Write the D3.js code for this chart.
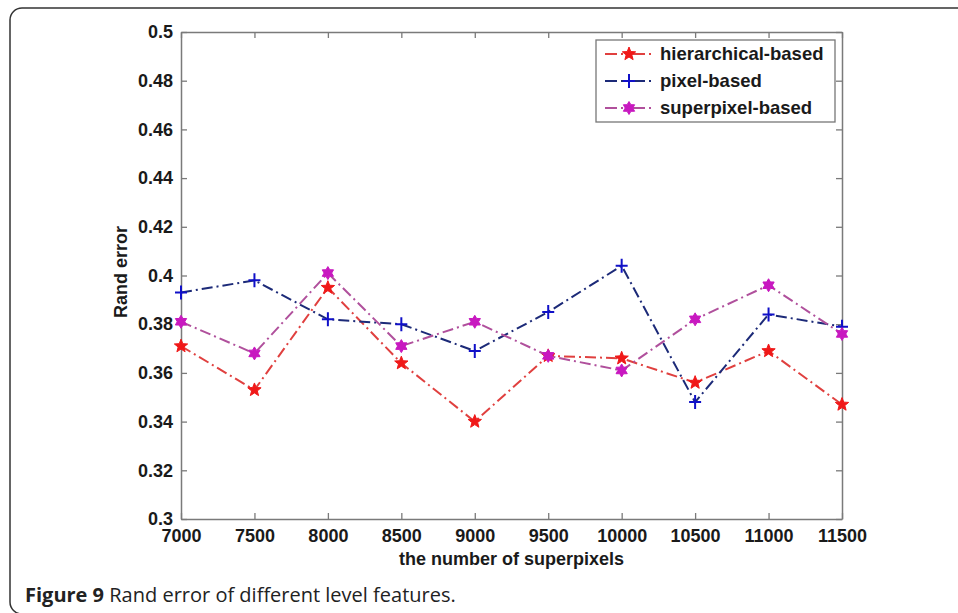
<!DOCTYPE html>
<html>
<head>
<meta charset="utf-8">
<script src="https://cdn.jsdelivr.net/npm/d3@7"></script>
<style>
  body { margin: 0; background: #fff; }
  svg { display: block; }
  .tick text { font-family: "Liberation Sans", Arial, sans-serif; font-size: 18px; font-weight: bold; fill: #1a1a1a; }
</style>
</head>
<body>
<svg class="chart" width="958" height="613"></svg>
<script>
// data
const superpixels = [7000, 7500, 8000, 8500, 9000, 9500, 10000, 10500, 11000, 11500];
const hierarchical = [0.371, 0.353, 0.395, 0.364, 0.340, 0.367, 0.366, 0.356, 0.369, 0.347];
const pixel = [0.393, 0.398, 0.382, 0.380, 0.369, 0.385, 0.404, 0.348, 0.384, 0.379];
const superpixel = [0.381, 0.368, 0.401, 0.371, 0.381, 0.367, 0.361, 0.382, 0.396, 0.376];
const yTicks = [0.3, 0.32, 0.34, 0.36, 0.38, 0.4, 0.42, 0.44, 0.46, 0.48, 0.5];
const seriesNames = ['hierarchical-based', 'pixel-based', 'superpixel-based'];

const plot = { l: 181, r: 842, t: 32, b: 519 };
const svg = d3.select('.chart');

// outer frame of the figure panel
svg.append('rect')
  .attr('x', 10).attr('y', 8)
  .attr('width', 1000).attr('height', 606)
  .attr('rx', 12)
  .attr('fill', 'none')
  .attr('stroke', '#333')
  .attr('stroke-width', 1.5);

const scaleX = d3.scaleLinear()
  .domain([7000, 11500])
  .range([plot.l, plot.r]);
const scaleY = d3.scaleLinear()
  .domain([0.3, 0.5])
  .range([plot.b, plot.t]);

const axisColor = '#7a7a7a';
function styleAxis(g) {
  g.select('.domain').attr('stroke', axisColor).attr('stroke-width', 1.5);
  g.selectAll('.tick line').attr('stroke', axisColor).attr('stroke-width', 1.3);
}

svg.append('g')
  .attr('transform', `translate(0, ${plot.b})`)
  .call(d3.axisBottom(scaleX).tickValues(superpixels).tickSize(-6).tickSizeOuter(0).tickPadding(10).tickFormat(d3.format('d')))
  .call(styleAxis);
svg.append('g')
  .attr('transform', `translate(0, ${plot.t})`)
  .call(d3.axisTop(scaleX).tickValues(superpixels).tickSize(-6).tickSizeOuter(0).tickFormat(''))
  .call(styleAxis);
svg.append('g')
  .attr('transform', `translate(${plot.l}, 0)`)
  .call(d3.axisLeft(scaleY).tickValues(yTicks).tickSize(-6).tickSizeOuter(0).tickPadding(8).tickFormat(d3.format('~g')))
  .call(styleAxis);
svg.append('g')
  .attr('transform', `translate(${plot.r}, 0)`)
  .call(d3.axisRight(scaleY).tickValues(yTicks).tickSize(-6).tickSizeOuter(0).tickFormat(''))
  .call(styleAxis);

// axis titles
svg.append('text')
  .attr('x', (plot.l + plot.r) / 2)
  .attr('y', 565)
  .attr('text-anchor', 'middle')
  .attr('font-family', '"Liberation Sans", Arial, sans-serif')
  .attr('font-size', 18).attr('font-weight', 'bold').attr('fill', '#1a1a1a')
  .text('the number of superpixels');
svg.append('text')
  .attr('transform', 'rotate(-90)')
  .attr('x', -272)
  .attr('y', 127)
  .attr('text-anchor', 'middle')
  .attr('font-family', '"Liberation Sans", Arial, sans-serif')
  .attr('font-size', 18).attr('font-weight', 'bold').attr('fill', '#1a1a1a')
  .text('Rand error');

// marker shapes
function starPath(points, R, r) {
  const pts = [];
  for (let i = 0; i < points * 2; i++) {
    const a = -Math.PI / 2 + i * Math.PI / points;
    const rad = i % 2 ? r : R;
    pts.push([rad * Math.cos(a), rad * Math.sin(a)]);
  }
  return 'M' + pts.map(p => p[0].toFixed(2) + ',' + p[1].toFixed(2)).join('L') + 'Z';
}
const plusPath = 'M-6,0H6M0,-7V7';

const series = [
  { name: seriesNames[0], values: hierarchical, line: '#e0403f', mark: '#f01818', shape: starPath(5, 7, 3), fill: true },
  { name: seriesNames[1], values: pixel, line: '#1c2a78', mark: '#1010c8', shape: plusPath, fill: false },
  { name: seriesNames[2], values: superpixel, line: '#b0509c', mark: '#c818c0', shape: starPath(6, 6.5, 3.8), fill: true }
];
const dash = '11,4,2,4';

const lineGen = d3.line()
  .x(d => scaleX(d[0]))
  .y(d => scaleY(d[1]));

series.forEach(s => {
  const pts = superpixels.map((x, i) => [x, s.values[i]]);
  svg.append('path')
    .datum(pts)
    .attr('d', lineGen)
    .attr('fill', 'none')
    .attr('stroke', s.line)
    .attr('stroke-width', 2)
    .attr('stroke-dasharray', dash);
  svg.selectAll(null)
    .data(pts)
    .enter()
    .append('path')
    .attr('d', s.shape)
    .attr('transform', d => `translate(${scaleX(d[0])}, ${scaleY(d[1])})`)
    .attr('fill', s.fill ? s.mark : 'none')
    .attr('stroke', s.mark)
    .attr('stroke-width', s.fill ? 1 : 2);
});

// legend
const legend = svg.append('g');
legend.append('rect')
  .attr('x', 596).attr('y', 40)
  .attr('width', 239).attr('height', 82)
  .attr('fill', '#fff')
  .attr('stroke', '#777')
  .attr('stroke-width', 1.3);
series.forEach((s, i) => {
  const y = 54 + i * 27;
  legend.append('line')
    .attr('x1', 605).attr('x2', 655)
    .attr('y1', y).attr('y2', y)
    .attr('stroke', s.line)
    .attr('stroke-width', 2)
    .attr('stroke-dasharray', '12,4,2,4,2,4');
  legend.append('path')
    .attr('d', s.shape)
    .attr('transform', `translate(629, ${y})`)
    .attr('fill', s.fill ? s.mark : 'none')
    .attr('stroke', s.mark)
    .attr('stroke-width', s.fill ? 1 : 2);
  legend.append('text')
    .attr('x', 660).attr('y', y + 6)
    .attr('font-family', '"Liberation Sans", Arial, sans-serif')
    .attr('font-size', 18.5).attr('font-weight', 'bold').attr('fill', '#1a1a1a')
    .text(s.name);
});

// caption
const caption = svg.append('text')
  .attr('x', 25).attr('y', 602)
  .attr('font-family', '"Open Sans", "Noto Sans", sans-serif')
  .attr('font-size', 20).attr('fill', '#222');
caption.append('tspan').attr('font-weight', 'bold').text('Figure 9');
caption.append('tspan').text(' Rand error of different level features.');
</script>
</body>
</html>
